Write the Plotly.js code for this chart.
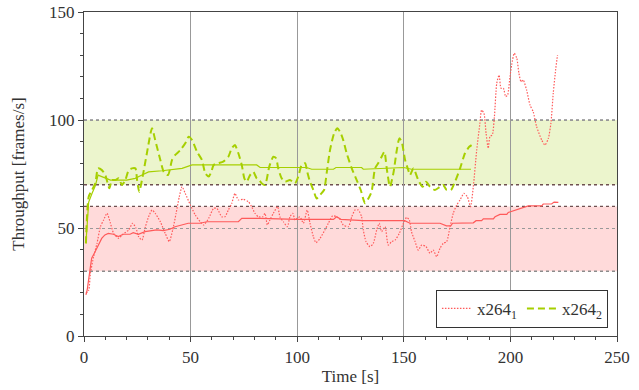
<!DOCTYPE html>
<html>
<head>
<meta charset="utf-8">
<script src="https://cdn.plot.ly/plotly-3.0.1.min.js"></script>
<style>html,body{margin:0;padding:0;background:#fff;}#chart{width:639px;height:390px;}</style>
</head>
<body>
<div id="chart"></div>
<script>
// x264_1 instantaneous throughput (red dotted)
const x1T = [0.9,2.2,3,4.5,6.1,7.7,9.2,10.8,12.4,13.9,16.3,17.8,21,22.8,24.4,25.6,27.2,28.8,30.3,31.9,33.4,35.8,38.1,40,41.6,43.2,44.7,46,47.5,49.9,52.2,54.5,56.1,58.5,60.8,62.4,64.6,66.1,67.7,69.3,70.8,72.4,74.7,77.1,78.6,80.2,81.8,83.8,84.9,86,87.2,88.8,90.8,91.9,93.5,95.4,96.6,97.9,99,100,101.3,102.9,104.7,106,107.6,108.8,110.7,113,114.6,116.6,118.5,120.1,121.6,124,125.6,127.1,128.7,130.2,131,132.3,134.1,135.7,137.3,138.5,139.6,141.2,142.7,144.3,145.9,147.9,149.5,151.3,152.6,153.6,155.3,156.8,158.4,160.4,162.3,163.8,165.4,167,168.5,170.1,171.7,173.2,174.8,176.4,178.2,179.8,181.3,182.6,184.2,185.7,186.5,187.6,188.6,189.6,190.4,191.5,192.5,193.6,194.7,195.6,196.7,197.8,198.7,199.8,200.6,201.8,203,204,205,206,207.6,209.2,210.7,212.3,214.7,216.2,217.8,219,220.1,221.2,222.1];
const x1V = [19.8,21.3,29,36.7,42.9,50.6,53.7,56.8,52.2,47.5,45.2,46.8,49.1,52.2,49.9,46,44.4,50.6,55.2,58.3,56.8,52.9,47.5,43.7,49.1,56.8,64.5,69.1,66,60.6,56,52.9,51.4,54.5,59.1,59,55.2,55.2,58.3,61.4,66,63,63.3,62.2,59.9,56.8,55.2,55.2,56.8,51.4,53.7,56.8,59.9,55.2,52.9,50.6,55.2,56.8,53.7,54.5,55.2,52.2,58.3,52.2,46,43.2,45.2,49.1,52.2,55.6,55.2,54,51.4,50.6,55.2,58.3,58.3,55.2,49.1,43.7,41.4,42.9,49.1,52.2,48.3,50.6,42.1,43.7,44.4,47.5,51.4,54.9,53.7,48.3,43.7,39.8,42.1,41.4,38.3,39.8,36.7,40.6,42.9,43.7,50.6,56.8,60.6,63,66,64.5,59.9,69.1,86.1,98.5,104.6,103.1,93.8,86.9,92.3,93.1,101.5,117,120.8,114.7,114.7,110.8,111.6,120,125.5,130.9,128.6,121.6,117.7,118.5,113.9,106.9,103.8,96.9,90.7,88.4,91.5,98.5,112.4,123.1,130.1];
// x264_1 running average (red solid)
const x1aT = [0.9,1.5,2.8,3.6,5.2,6.7,8.3,9.8,11.4,13.8,16.1,18.4,21.6,23.1,25.5,28.6,34.1,37.2,40.3,42.7,45,48.9,54.4,57.6,72.4,74,82.6,99.8,117,118.5,120.5,130,131,150.4,152.9,167,170,172,172.9,182.6,183.9,186.5,187.3,192,192.8,195.1,198.3,199,201.4,203.7,206.8,208.4,214.7,215.4,219.3,220.5,222.5];
const x1aV = [19,21.3,30.6,36,39,42.1,45.2,46.8,47.5,47.1,46,47.1,47.1,47.8,47.1,48.3,49.1,48.8,49.4,50.6,51.1,52.2,52.2,52.9,52.9,54.5,54.5,54,54,55.2,54,53.7,53.4,53.4,52.2,52.2,51,51,52.2,52.4,53.4,53.4,54.2,54.2,55.2,56.3,56.3,57.2,57.9,58.8,59.4,60.2,60.2,61.1,61.1,62,61.9];
// x264_2 instantaneous throughput (green dashed)
const x2T = [0.9,2.2,3.75,5.3,6.6,8.4,10,11.9,13.1,14.7,16.3,17.8,19.4,21,22.5,24.1,24.9,25.9,27.5,29.5,31.9,33.4,35.8,37.4,39.4,41.3,42.8,45.2,47.5,49.1,50.7,53,55.3,56.9,58.5,59.7,60.8,63,65.3,67.7,69.3,70.8,72.4,74,75.2,76.3,77.9,79.4,81,82.2,83.3,84.9,86.9,88.8,90.1,91.1,92.7,94.3,96.6,99,100.5,102.1,103.7,104.7,106,107.6,109.1,110.7,112.6,113.8,115.4,117.3,118.8,120.3,121.6,123.2,125.6,127.9,129.8,131.8,133.4,134.9,136.5,138,139.6,140.9,142,143.5,145.1,146.6,147.9,149,150.6,152.1,152.9,154.5,156.8,158.8,160.4,162.3,164.6,167,168.5,170.1,172.1,174,176.4,178.7,180.7,181.8];
const x2V = [42.9,64.5,67.6,70.7,77.6,76.8,74.5,68.4,72.2,72.2,73,69.9,72.2,76.8,77.6,77.6,72.2,66.8,73.8,84.6,96.2,90.7,81.5,76,74.5,81.5,83.8,86.1,89.2,92.3,90.7,85.3,81.5,75.3,73.8,76,79.2,80,80.7,83,86.9,88.4,84.6,79.2,73,71.4,74.5,76,73,72.2,70.7,69.9,78.4,83,82.3,77.6,73,71.4,72.2,70.7,73.8,79.2,80,76,71.4,67.6,63.7,65.3,67.6,75.3,86.1,93.8,96.2,94.2,90.7,84.6,77.6,72.2,67.6,61.5,63.7,66.8,77.6,80,83,85.3,77.6,69.1,75.3,85.3,91.5,90,81.5,76.8,74.5,77.6,72.2,69.1,71.4,69.1,67.6,69.1,69.9,67.6,67.6,71.4,77.6,84.6,87.6,88.4];
// x264_2 running average (green solid)
const x2aT = [0.9,2.2,3.75,5.3,6.6,8.4,10.8,12.4,20,24,27.2,30.3,36.6,41.3,46,50.7,59,81,82.6,104.4,106.8,117,118.2,130.2,131,145,150,153.6,181.5];
const x2aV = [42.9,62,66,69.5,74.5,73.8,73,72.2,72.2,73,74.5,76,76.5,77.2,77.6,79.2,79.2,79.2,78,78,77.2,77.2,78,78,77.2,77.6,78,77.2,77.2];

const names = ['x264<sub>1</sub>', 'x264<sub>2</sub>'];
const redC = '#ff5a5a';
const greenC = '#a6cf00';
const FONT = '"Liberation Serif", "Times New Roman", serif';

const traces = [
  {x: x1aT, y: x1aV, mode: 'lines', line: {color: redC, width: 1.2}, showlegend: false, hoverinfo: 'skip'},
  {x: x2aT, y: x2aV, mode: 'lines', line: {color: greenC, width: 1.2}, showlegend: false, hoverinfo: 'skip'},
  {x: x1T, y: x1V, mode: 'lines', name: names[0], line: {color: redC, width: 1.2, dash: '1.5px,1.5px', shape: 'spline', smoothing: 0.6}},
  {x: x2T, y: x2V, mode: 'lines', name: names[1], line: {color: greenC, width: 2, dash: '7px,4px', shape: 'spline', smoothing: 0.6}}
];

const edgeDark = 'rgb(110,80,80)';
const edgeGray = 'rgb(140,140,140)';
const shapes = [
  {type: 'rect', xref: 'x', yref: 'y', x0: 0, x1: 250, y0: 70, y1: 100, fillcolor: 'rgb(236,245,205)', line: {width: 0}, layer: 'below'},
  {type: 'rect', xref: 'x', yref: 'y', x0: 0, x1: 250, y0: 30, y1: 60, fillcolor: 'rgb(255,218,218)', line: {width: 0}, layer: 'below'},
  {type: 'line', xref: 'x', yref: 'y', x0: 0, x1: 250, y0: 100, y1: 100, line: {color: edgeGray, width: 1.6, dash: 'dot'}, layer: 'below'},
  {type: 'line', xref: 'x', yref: 'y', x0: 0, x1: 250, y0: 70, y1: 70, line: {color: edgeDark, width: 1.4, dash: 'dot'}, layer: 'below'},
  {type: 'line', xref: 'x', yref: 'y', x0: 0, x1: 250, y0: 60, y1: 60, line: {color: edgeDark, width: 1.4, dash: 'dot'}, layer: 'below'},
  {type: 'line', xref: 'x', yref: 'y', x0: 0, x1: 250, y0: 30, y1: 30, line: {color: edgeGray, width: 1.6, dash: 'dot'}, layer: 'below'}
];

const layout = {
  width: 639, height: 390,
  margin: {l: 84, r: 22, t: 12, b: 54},
  paper_bgcolor: '#fff', plot_bgcolor: 'rgba(0,0,0,0)',
  font: {family: FONT, size: 17, color: '#333'},
  shapes: shapes,
  showlegend: true,
  legend: {x: 0.983, xanchor: 'right', y: 0.025, yanchor: 'bottom', orientation: 'h',
           bgcolor: '#fff', bordercolor: '#333', borderwidth: 1, font: {family: FONT, size: 17, color: '#333'},
           itemwidth: 30, tracegroupgap: 0},
  xaxis: {range: [0, 250], dtick: 50, tick0: 0, showgrid: true, gridcolor: '#999', gridwidth: 1,
          zeroline: false, showline: true, linecolor: '#444', linewidth: 1.2, mirror: true,
          ticks: 'outside', ticklen: 5, tickcolor: '#444',
          tickfont: {family: FONT, size: 17, color: '#333'},
          minor: {dtick: 10, ticks: 'outside', ticklen: 3, tickcolor: '#444', showgrid: false},
          title: {text: 'Time [s]', font: {family: FONT, size: 17, color: '#333'}, standoff: 4},
          automargin: false},
  yaxis: {range: [0, 150], dtick: 50, tick0: 0, showgrid: true, gridcolor: '#999', gridwidth: 1, griddash: 'dot',
          zeroline: false, showline: true, linecolor: '#444', linewidth: 1.2, mirror: true,
          ticks: 'outside', ticklen: 5, tickcolor: '#444',
          tickfont: {family: FONT, size: 17, color: '#333'},
          minor: {dtick: 10, ticks: 'outside', ticklen: 3, tickcolor: '#444', showgrid: false},
          title: {text: 'Throughput [frames/s]', font: {family: FONT, size: 17, color: '#333'}, standoff: 20},
          automargin: false}
};

Plotly.newPlot('chart', traces, layout, {staticPlot: true, displayModeBar: false});
</script>
</body>
</html>
